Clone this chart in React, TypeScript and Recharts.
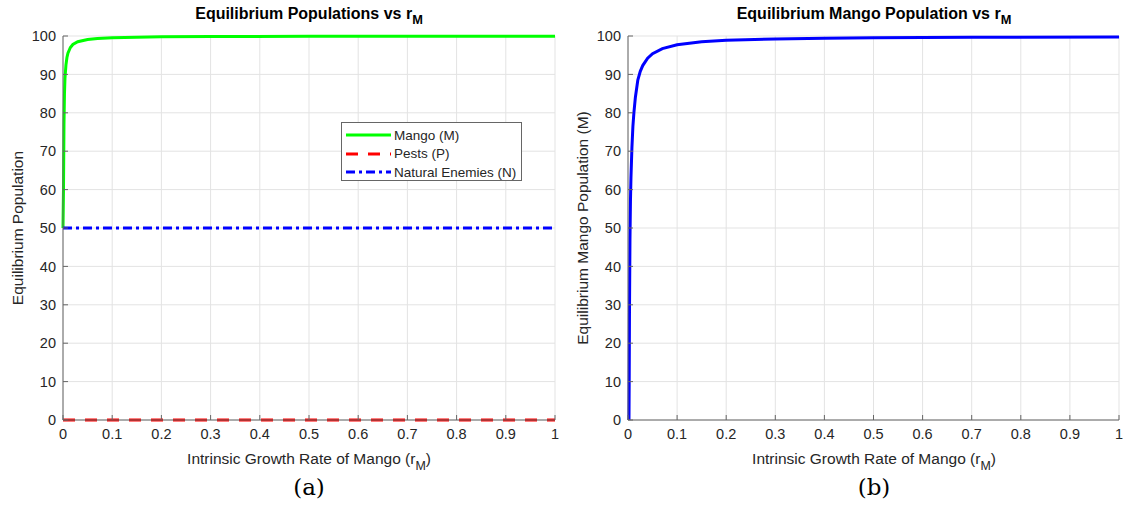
import { LineChart, Line, XAxis, YAxis, CartesianGrid } from "recharts";

// growth rate r_M on x, equilibrium population on y
const rTicks = [0, 0.1, 0.2, 0.3, 0.4, 0.5, 0.6, 0.7, 0.8, 0.9, 1];
const popTicks = [0, 10, 20, 30, 40, 50, 60, 70, 80, 90, 100];

// panel (a): all three species
const mangoR = [0, 0.001, 0.002, 0.003, 0.004, 0.006, 0.008, 0.01, 0.015, 0.02, 0.03, 0.05, 0.07, 0.1, 0.15, 0.2, 0.3, 0.5, 0.7, 1];
const mangoPop = [50, 60, 77, 85, 89, 92.5, 94.4, 95.5, 97, 97.8, 98.5, 99.1, 99.36, 99.55, 99.7, 99.78, 99.85, 99.91, 99.94, 99.95];
const pestsR = [0, 1];
const pestsPop = [0, 0];
const enemiesR = [0, 1];
const enemiesPop = [50, 50];

// panel (b): mango only
const mangoOnlyR = [0.002, 0.0025, 0.003, 0.004, 0.005, 0.006, 0.008, 0.01, 0.012, 0.015, 0.02, 0.025, 0.03, 0.04, 0.05, 0.07, 0.1, 0.15, 0.2, 0.3, 0.4, 0.5, 0.7, 1];
const mangoOnlyPop = [0, 12, 28, 47, 57, 63, 71, 76.5, 80, 84, 88.5, 90.8, 92.3, 94.2, 95.4, 96.7, 97.7, 98.5, 98.9, 99.25, 99.43, 99.54, 99.67, 99.77];

const zip = (xs: number[], ys: number[]) => xs.map((r, i) => ({ r, y: ys[i] }));

const GREEN = "#00ff00";
const RED = "#ff0000";
const BLUE = "#0000ff";
const AXIS = "#666666";
const TEXT = "#262626";
const GRID = "#e3e3e3";
const SANS = "'Liberation Sans', Arial, sans-serif";

const tickStyle = { fontSize: 14.5, fill: TEXT, fontFamily: SANS };

function Frame() {
  // axes on all four sides, ticks pointing inward
  return [
    <CartesianGrid key="g" stroke={GRID} strokeWidth={1} />,
    <XAxis key="xb" dataKey="r" type="number" domain={[0, 1]} ticks={rTicks} height={30}
      stroke={AXIS} tickSize={-5} tickMargin={14} tick={tickStyle} allowDuplicatedCategory={false} />,
    <XAxis key="xt" xAxisId="top" orientation="top" dataKey="r" type="number" domain={[0, 1]} ticks={rTicks}
      height={0} stroke={AXIS} tickSize={-5} tick={false} />,
    <YAxis key="yl" type="number" domain={[0, 100]} ticks={popTicks} width={40}
      stroke={AXIS} tickSize={-5} tickMargin={12} tick={tickStyle} />,
    <YAxis key="yr" yAxisId="right" orientation="right" type="number" domain={[0, 100]} ticks={popTicks}
      width={0} stroke={AXIS} tickSize={-5} tick={false} />,
  ];
}

const legendItems = [
  { label: "Mango (M)", color: GREEN, dash: undefined },
  { label: "Pests (P)", color: RED, dash: "12 10" },
  { label: "Natural Enemies (N)", color: BLUE, dash: "9 4 3 4" },
];

const abs = (left: number, top: number): React.CSSProperties => ({ position: "absolute", left, top });

function LegendBox({ x, y }: { x: number; y: number }) {
  return (
    <div style={{ ...abs(x, y), width: 181, height: 59, background: "#fff", border: `1px solid ${AXIS}`, boxSizing: "border-box" }}>
      {legendItems.map((it, i) => (
        <div key={it.label} style={{ position: "absolute", left: 0, top: 3 + i * 18.5, height: 18, display: "flex", alignItems: "center" }}>
          <svg width={52} height={18}>
            <line x1={4} y1={9} x2={49} y2={9} stroke={it.color} strokeWidth={3} strokeDasharray={it.dash} />
          </svg>
          <span style={{ fontFamily: SANS, fontSize: 13.5, color: TEXT, whiteSpace: "nowrap" }}>{it.label}</span>
        </div>
      ))}
    </div>
  );
}

function Title({ x, y, text }: { x: number; y: number; text: string }) {
  return (
    <div style={{ ...abs(x - 250, y), width: 500, textAlign: "center", fontFamily: SANS, fontWeight: "bold", fontSize: 16, color: "#000", whiteSpace: "nowrap" }}>
      {text}<sub style={{ fontSize: "0.8em", verticalAlign: "-0.4em" }}>M</sub>
    </div>
  );
}

function XLabel({ x, y }: { x: number; y: number }) {
  return (
    <div style={{ ...abs(x - 250, y), width: 500, textAlign: "center", fontFamily: SANS, fontSize: 15.5, color: TEXT, whiteSpace: "nowrap" }}>
      Intrinsic Growth Rate of Mango (r<sub style={{ fontSize: "0.8em", verticalAlign: "-0.45em" }}>M</sub>)
    </div>
  );
}

function YLabel({ x, y, text }: { x: number; y: number; text: string }) {
  return (
    <div style={{ ...abs(x - 200, y - 10), width: 400, height: 20, lineHeight: "20px", textAlign: "center", transform: "rotate(-90deg)", fontFamily: SANS, fontSize: 15.5, color: TEXT, whiteSpace: "nowrap" }}>
      {text}
    </div>
  );
}

function Caption({ x, y, text }: { x: number; y: number; text: string }) {
  return (
    <div style={{ ...abs(x - 50, y), width: 100, textAlign: "center", fontFamily: "'DejaVu Serif', serif", fontSize: 23, color: "#000" }}>
      {text}
    </div>
  );
}

export default function App() {
  return (
    <div style={{ position: "absolute", left: 0, top: 0, width: 1130, height: 508, background: "#fff", overflow: "hidden" }}>
      <div style={abs(0, 0)}>
        <LineChart width={570} height={460} margin={{ top: 36, right: 15, bottom: 10, left: 23 }}>
          {Frame()}
          <Line data={zip(mangoR, mangoPop)} dataKey="y" name="Mango (M)" stroke={GREEN} strokeWidth={3} dot={false} type="linear" isAnimationActive={false} />
          <Line data={zip(pestsR, pestsPop)} dataKey="y" name="Pests (P)" stroke={RED} strokeWidth={3} strokeDasharray="12 10" dot={false} type="linear" isAnimationActive={false} />
          <Line data={zip(enemiesR, enemiesPop)} dataKey="y" name="Natural Enemies (N)" stroke={BLUE} strokeWidth={3} strokeDasharray="9 4 3 4" dot={false} type="linear" isAnimationActive={false} />
        </LineChart>
      </div>
      <div style={abs(565, 0)}>
        <LineChart width={565} height={460} margin={{ top: 36, right: 11, bottom: 10, left: 23 }}>
          {Frame()}
          <Line data={zip(mangoOnlyR, mangoOnlyPop)} dataKey="y" stroke={BLUE} strokeWidth={3} dot={false} type="linear" isAnimationActive={false} />
        </LineChart>
      </div>

      <LegendBox x={341} y={122} />
      <Title x={309} y={5} text="Equilibrium Populations vs r" />
      <Title x={874} y={5} text="Equilibrium Mango Population vs r" />
      <YLabel x={18} y={228} text="Equilibrium Population" />
      <YLabel x={583} y={228} text="Equilibrium Mango Population (M)" />
      <XLabel x={309} y={450} />
      <XLabel x={874} y={450} />
      <Caption x={309} y={474} text="(a)" />
      <Caption x={874} y={474} text="(b)" />
    </div>
  );
}
